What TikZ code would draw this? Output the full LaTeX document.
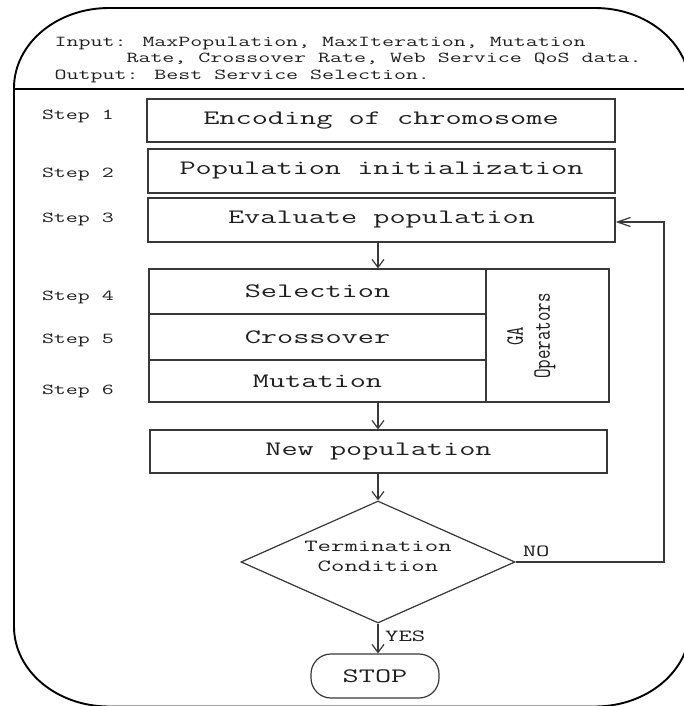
\documentclass[tikz,border=0pt]{standalone}
\usepackage{graphicx}
\usetikzlibrary{shapes.geometric,arrows.meta}

% typewriter text, widened
\newcommand{\wide}[1]{\scalebox{1.53}[1]{#1}}
\newcommand{\mainfnt}{\fontsize{20.5}{24}\selectfont\ttfamily}
\newcommand{\smallfnt}{\fontsize{15.2}{16.3}\selectfont\ttfamily}
\newcommand{\midfnt}{\fontsize{17}{20}\selectfont\ttfamily}
\definecolor{ink}{gray}{0.12}
\definecolor{rule}{gray}{0.22}

\begin{document}
\begin{tikzpicture}[x=1pt,y=-1pt,
  frame/.style={draw=black,line width=1.9pt},
  stepbox/.style={draw=rule,line width=1.2pt,rectangle,inner sep=0pt,text=ink,font=\mainfnt},
  steplbl/.style={anchor=base west,inner sep=0pt,text=ink,font=\smallfnt},
  answer/.style={anchor=base west,inner sep=0pt,text=ink,font=\midfnt},
  flow/.style={draw=rule,line width=1.2pt,-{Straight Barb[length=8pt,width=12pt]}},
  sideflow/.style={draw=rule,line width=1.2pt,-{Straight Barb[length=13pt,width=9pt]}}]

\useasboundingbox (0,0) rectangle (683,706);
\fill[white] (0,0) rectangle (683,706);

% outer frame with rounded corners and the header divider
\draw[frame] (14,88) .. controls (14,43.8) and (56.5,8) .. (109,8)
  -- (595,8) .. controls (647.5,8) and (690,43.8) .. (690,88)
  -- (690,626.5) .. controls (690,670.7) and (647.5,706.5) .. (595,706.5)
  -- (109,706.5) .. controls (56.5,706.5) and (14,670.7) .. (14,626.5) -- cycle;
\draw[frame,line width=1.6pt] (14,89) -- (690,89);

% header
\node[anchor=base west,inner sep=0pt,text=ink,font=\smallfnt] (hdr) at (54.5,46.7)
  {\wide{\begin{tabular}[t]{@{}l@{}}Input: MaxPopulation, MaxIteration, Mutation\\
   \phantom{Input:}Rate, Crossover Rate, Web Service QoS data.\\
   Output: Best Service Selection.\end{tabular}}};

% step labels
\node[steplbl] (st1) at (41.8,119.3) {\wide{Step 1}};
\node[steplbl] (st2) at (41.8,177.3) {\wide{Step 2}};
\node[steplbl] (st3) at (41.8,222.7) {\wide{Step 3}};
\node[steplbl] (st4) at (41.8,300.7) {\wide{Step 4}};
\node[steplbl] (st5) at (41.8,343.3) {\wide{Step 5}};
\node[steplbl] (st6) at (41.8,394) {\wide{Step 6}};

% steps 1-3
\node[stepbox,minimum width=468pt,minimum height=43pt] (s1) at (381,120.5) {\wide{Encoding of chromosome}};
\node[stepbox,minimum width=467pt,minimum height=44pt] (s2) at (381.5,171) {\wide{Population initialization}};
\node[stepbox,minimum width=467pt,minimum height=44pt] (s3) at (381.5,220) {\wide{Evaluate population}};

% GA operators block
\node[stepbox,minimum width=337pt,minimum height=45pt] (sel) at (317.5,291.5) {\wide{Selection}};
\node[stepbox,minimum width=337pt,minimum height=46pt] (cro) at (317.5,337) {\wide{Crossover}};
\node[stepbox,minimum width=337pt,minimum height=42pt] (mut) at (317.5,381) {\wide{Mutation}};
\node[stepbox,minimum width=123pt,minimum height=133pt] (ga) at (547.5,335.5) {};
\node[rotate=90,inner sep=0pt,text=ink,font=\fontsize{18.5}{20}\selectfont\ttfamily] (galbl) at (531,336)
  {\scalebox{1}[1.35]{\begin{tabular}{@{}c@{}}GA\\Operators\end{tabular}}};

% new population, termination test, stop
\node[stepbox,minimum width=457pt,minimum height=43pt] (np) at (378.5,451.5) {\wide{New population}};
\node[draw=rule,line width=1.2pt,diamond,inner sep=0pt,minimum width=274pt,minimum height=122pt] (term) at (378,562) {};
\node[inner sep=0pt,text=ink,font=\midfnt] (termtxt) at (378,557.7)
  {\wide{\begin{tabular}{@{}c@{}}Termination\\Condition\end{tabular}}};
\node[stepbox,rounded corners=20pt,minimum width=128pt,minimum height=44pt] (stop) at (375,676) {\wide{STOP}};

% connectors
\coordinate (spine) at (378,0);
\coordinate (loop) at (664,222);
\draw[flow] (s3.south -| spine) -- (sel.north -| spine);
\draw[flow] (mut.south -| spine) -- (np.north -| spine);
\draw[flow] (np.south -| spine) -- (term.north);
\draw[flow] (term.south) -- (stop.north -| term.south);
\draw[sideflow] (term.east) -| (loop) -- (s3.east |- loop);

\node[answer] (no) at (522.6,556.5) {\wide{NO}};
\node[answer] (yes) at (385,641.7) {\wide{YES}};
\end{tikzpicture}
\end{document}
